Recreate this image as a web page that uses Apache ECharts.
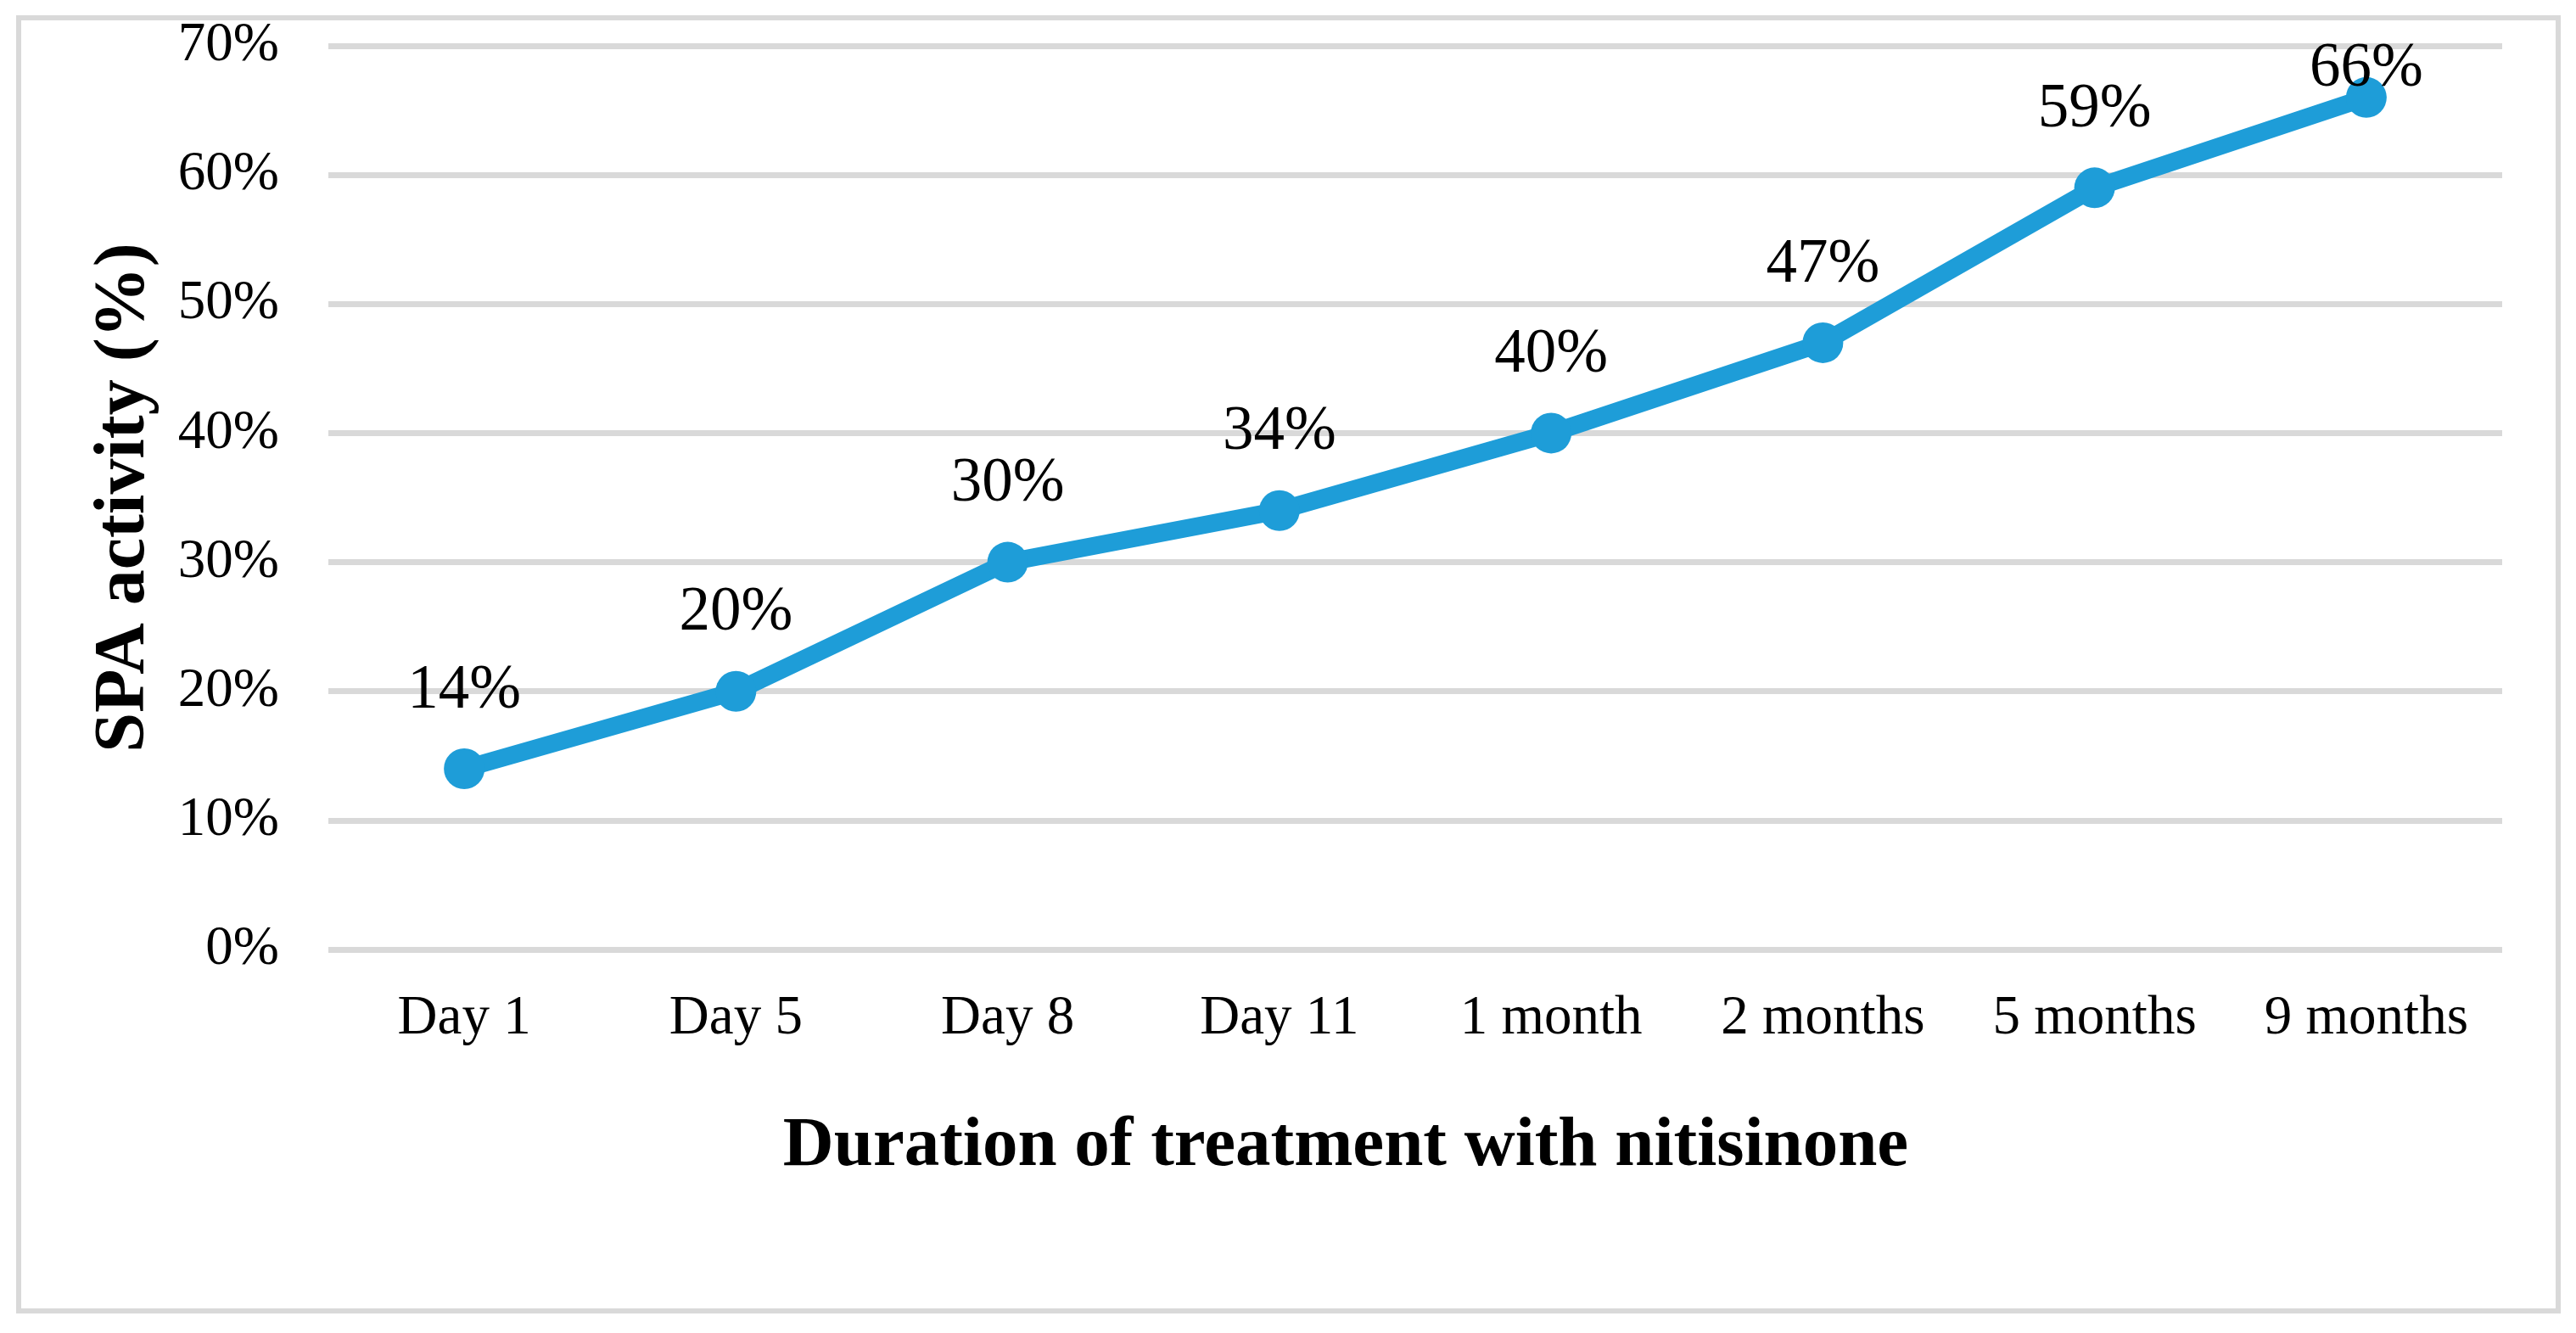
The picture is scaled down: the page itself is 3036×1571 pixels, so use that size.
<!DOCTYPE html>
<html>
<head>
<meta charset="utf-8">
<script src="https://cdn.jsdelivr.net/npm/echarts@6/dist/echarts.min.js"></script>
<style>
html,body{margin:0;padding:0;background:#fff;}
#chart{width:3036px;height:1571px;}
</style>
</head>
<body>
<div id="chart"></div>
<script>
const categories = ['Day 1', 'Day 5', 'Day 8', 'Day 11', '1 month', '2 months', '5 months', '9 months'];
const spaActivity = [14, 20, 30, 34, 40, 47, 59, 66];
const yMin = 0, yMax = 70, yStep = 10;
const xTitle = 'Duration of treatment with nitisinone';
const yTitle = 'SPA activity (%)';

const FONT = '"Liberation Serif", "Times New Roman", serif';
const BLUE = '#1E9DD8';
const GRAY = '#D9D9D9';

const seriesData = spaActivity.map((v, i) =>
  i === spaActivity.length - 1 ? { value: v, label: { offset: [0, 58] } } : v
);

const chart = echarts.init(document.getElementById('chart'));
chart.setOption({
  animation: false,
  backgroundColor: '#fff',
  graphic: [{
    type: 'rect',
    shape: { x: 22, y: 21, width: 2993, height: 1524 },
    style: { fill: 'none', stroke: GRAY, lineWidth: 6 },
    silent: true
  }],
  title: {
    text: xTitle,
    left: 1586,
    top: 1352,
    textAlign: 'center',
    textVerticalAlign: 'middle',
    padding: 0,
    textStyle: { fontFamily: FONT, fontSize: 83, fontWeight: 'bold', color: '#000' }
  },
  grid: { left: 387, right: 87, top: 54, bottom: 452, containLabel: false },
  xAxis: {
    type: 'category',
    data: categories,
    boundaryGap: true,
    axisLine: { show: false },
    axisTick: { show: false },
    axisLabel: { margin: 49, fontFamily: FONT, fontSize: 65, color: '#000' },
    splitLine: { show: false }
  },
  yAxis: {
    type: 'value',
    min: yMin, max: yMax, interval: yStep,
    name: yTitle,
    nameLocation: 'middle',
    nameRotate: 90,
    nameGap: 198,
    nameTextStyle: { fontFamily: FONT, fontSize: 84, fontWeight: 'bold', color: '#000' },
    axisLine: { show: false },
    axisTick: { show: false },
    axisLabel: { margin: 58, fontFamily: FONT, fontSize: 65, color: '#000', formatter: '{value}%' },
    splitLine: { show: true, lineStyle: { color: GRAY, width: 7 } }
  },
  series: [{
    type: 'line',
    data: seriesData,
    symbol: 'circle',
    symbolSize: 48,
    lineStyle: { color: BLUE, width: 21 },
    itemStyle: { color: BLUE },
    label: {
      show: true,
      position: 'top',
      distance: 31,
      formatter: '{c}%',
      fontFamily: FONT,
      fontSize: 73,
      color: '#000'
    }
  }]
});
</script>
</body>
</html>
